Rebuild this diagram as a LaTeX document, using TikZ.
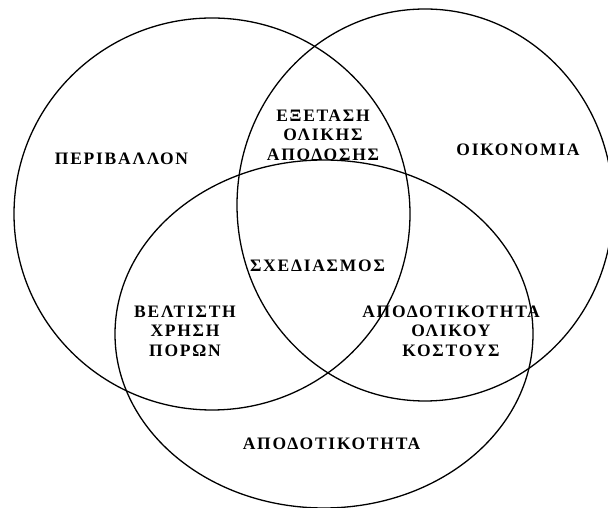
\documentclass[tikz,border=0pt]{standalone}
\usepackage{fontspec}
\newfontfamily\lblfont{Liberation Serif Bold}[LetterSpace=10]
\begin{document}
\begin{tikzpicture}[x=1pt,y=1pt,
  ring/.style={draw=black,line width=1.3pt},
  lbl/.style={font=\lblfont\fontsize{17.5}{19.5}\selectfont,align=center,inner sep=0pt}]
\useasboundingbox (0,0) rectangle (608,508);
\draw[ring] (212,294) ellipse [x radius=198, y radius=196];
\draw[ring] (425,303) ellipse [x radius=188, y radius=196];
\draw[ring] (324,174) ellipse [x radius=209, y radius=174];
\node[lbl] (env) at (121.5,349) {ΠΕΡΙΒΑΛΛΟΝ};
\node[lbl] (eco) at (518,358) {ΟΙΚΟΝΟΜΙΑ};
\node[lbl] (eff) at (331.5,64) {ΑΠΟΔΟΤΙΚΟΤΗΤΑ};
\node[lbl] (des) at (317.5,242) {ΣΧΕΔΙΑΣΜΟΣ};
\node[lbl] (exa) at (323,373) {ΕΞΕΤΑΣΗ\\ΟΛΙΚΗΣ\\ΑΠΟΔΟΣΗΣ};
\node[lbl] (res) at (185,177) {ΒΕΛΤΙΣΤΗ\\ΧΡΗΣΗ\\ΠΟΡΩΝ};
\node[lbl] (cost) at (451,177) {ΑΠΟΔΟΤΙΚΟΤΗΤΑ\\ΟΛΙΚΟΥ\\ΚΟΣΤΟΥΣ};
\end{tikzpicture}
\end{document}
